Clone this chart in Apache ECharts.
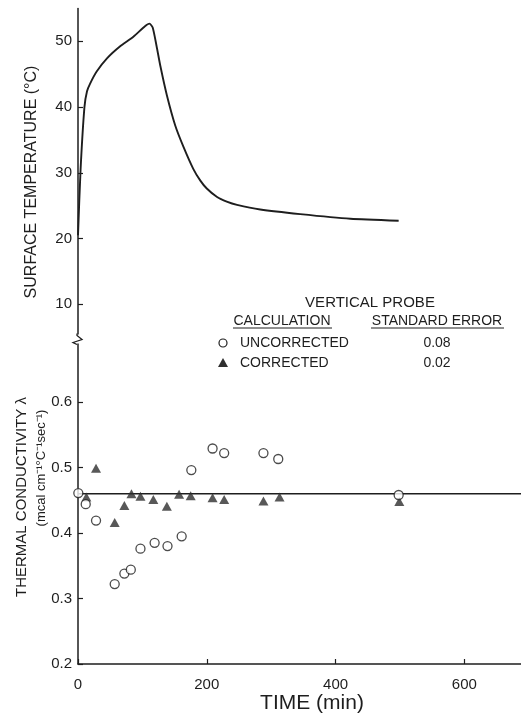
<!DOCTYPE html>
<html>
<head>
<meta charset="utf-8">
<script src="https://cdn.jsdelivr.net/npm/echarts@6/dist/echarts.min.js"></script>
<style>
html,body{margin:0;padding:0;background:#fff;}
#chart{width:521px;height:717px;}
</style>
</head>
<body>
<div id="chart"></div>
<script>
// ---- data ----
var tempTime  = [0, 4, 10, 14, 19, 29, 45, 65, 86, 104, 111, 116, 122, 128, 138, 151, 164, 179, 190, 200, 216, 231, 247, 283, 345, 423, 498];
var tempValue = [20.5, 30.5, 40.0, 42.4, 43.6, 45.4, 47.4, 49.2, 50.7, 52.3, 52.7, 52.1, 49.3, 46.2, 41.8, 37.2, 33.9, 30.6, 28.8, 27.6, 26.3, 25.6, 25.1, 24.4, 23.7, 23.0, 22.7];

var uncorrTime  = [0.5, 12, 28, 57, 72, 82, 97, 119, 139, 161, 176, 209, 227, 288, 311, 498];
var uncorrValue = [0.461, 0.444, 0.419, 0.322, 0.338, 0.344, 0.376, 0.385, 0.380, 0.395, 0.496, 0.529, 0.522, 0.522, 0.513, 0.458];

var corrTime  = [13, 28, 57, 72, 83, 97, 117, 138, 157, 175, 209, 227, 288, 313, 499];
var corrValue = [0.455, 0.499, 0.416, 0.442, 0.460, 0.456, 0.451, 0.441, 0.459, 0.457, 0.454, 0.451, 0.449, 0.455, 0.448];

var fitTime  = [0, 688];
var fitValue = [0.46, 0.46];

var xTicks = [0, 200, 400, 600];
var tempTicks = [10, 20, 30, 40, 50];
var condTicks = [0.2, 0.3, 0.4, 0.5, 0.6];

function zip(a, b) { return a.map(function (v, i) { return [v, b[i]]; }); }

var FONT = '"Liberation Sans", Arial, sans-serif';
var INK = '#1e1e1e';

var chart = echarts.init(document.getElementById('chart'), null, {renderer: 'canvas'});

var axisCommon = {
  axisLine: {show: true, lineStyle: {color: INK, width: 1.5}},
  axisTick: {show: true, inside: true, length: 5, lineStyle: {color: INK, width: 1.2}},
  splitLine: {show: false}
};

var option = {
  animation: false,
  backgroundColor: '#fff',
  grid: [
    {left: 78, right: 0, top: 8.5, height: 328.5},
    {left: 78, right: 0, top: 336.5, bottom: 53}
  ],
  xAxis: [
    {gridIndex: 0, type: 'value', min: 0, max: 688, show: false},
    Object.assign({}, axisCommon, {
      gridIndex: 1, type: 'value', min: 0, max: 688,
      axisTick: Object.assign({}, axisCommon.axisTick, {customValues: xTicks}),
      axisLabel: {customValues: xTicks, margin: 13, color: INK, fontSize: 15, fontFamily: FONT},
      name: 'TIME (min)', nameLocation: 'middle', nameGap: 28,
      nameTextStyle: {color: INK, fontSize: 21, fontFamily: FONT, padding: [0, 0, 0, 25]}
    })
  ],
  yAxis: [
    Object.assign({}, axisCommon, {
      gridIndex: 0, type: 'value', min: 5, max: 55,
      axisTick: Object.assign({}, axisCommon.axisTick, {customValues: tempTicks}),
      axisLabel: {customValues: tempTicks, margin: 6, color: INK, fontSize: 15, fontFamily: FONT}
    }),
    Object.assign({}, axisCommon, {
      gridIndex: 1, type: 'value', min: 0.2, max: 0.7,
      axisTick: Object.assign({}, axisCommon.axisTick, {customValues: condTicks}),
      axisLabel: {customValues: condTicks, margin: 6, color: INK, fontSize: 15, fontFamily: FONT,
        formatter: function (v) { return v.toFixed(1); }}
    })
  ],
  series: [
    {
      name: 'Surface temperature', type: 'line', xAxisIndex: 0, yAxisIndex: 0,
      data: zip(tempTime, tempValue), symbol: 'none', smooth: 0.2,
      lineStyle: {color: INK, width: 1.9}
    },
    {
      name: 'Mean', type: 'line', xAxisIndex: 1, yAxisIndex: 1,
      data: zip(fitTime, fitValue), symbol: 'none',
      lineStyle: {color: INK, width: 1.6}, z: 2
    },
    {
      name: 'CORRECTED', type: 'scatter', xAxisIndex: 1, yAxisIndex: 1,
      data: zip(corrTime, corrValue), symbol: 'triangle', symbolSize: [10, 9],
      itemStyle: {color: '#2e2e2e'}, z: 3
    },
    {
      name: 'UNCORRECTED', type: 'scatter', xAxisIndex: 1, yAxisIndex: 1,
      data: zip(uncorrTime, uncorrValue), symbol: 'circle', symbolSize: 9,
      itemStyle: {color: '#fff', borderColor: INK, borderWidth: 1.3}, z: 4
    }
  ]
};
chart.setOption(option);

// decorations: axis titles, legend table, axis break
var brk = chart.convertToPixel({gridIndex: 1}, [0, 0.7]);
var bx = brk[0] - 1, by = brk[1] + 2;
var txt = function (t, x, y, size, align, extra) {
  return Object.assign({type: 'text', x: x, y: y, style: {text: t, fill: INK, font: size + 'px ' + FONT,
    align: align || 'left', verticalAlign: 'middle'}}, extra || {});
};
chart.setOption({
  graphic: [
    txt('SURFACE TEMPERATURE (°C)', 32, 182, 16, 'center', {rotation: Math.PI / 2}),
    txt('THERMAL CONDUCTIVITY λ', 22, 497, 15, 'center', {rotation: Math.PI / 2}),
    txt('(mcal cm⁻¹°C⁻¹sec⁻¹)', 41, 468, 13, 'center', {rotation: Math.PI / 2}),
    txt('VERTICAL PROBE', 370, 303, 15, 'center'),
    txt('CALCULATION', 282, 321, 14, 'center'),
    txt('STANDARD ERROR', 437, 321, 14, 'center'),
    {type: 'line', shape: {x1: 233, y1: 328, x2: 332, y2: 328}, style: {stroke: INK, lineWidth: 1}},
    {type: 'line', shape: {x1: 371, y1: 328, x2: 504, y2: 328}, style: {stroke: INK, lineWidth: 1}},
    {type: 'circle', shape: {cx: 223, cy: 343, r: 4}, style: {fill: '#fff', stroke: INK, lineWidth: 1.2}},
    txt('UNCORRECTED', 240, 343, 14, 'left'),
    txt('0.08', 437, 343, 14, 'center'),
    {type: 'polygon', shape: {points: [[223, 358], [228, 367], [218, 367]]}, style: {fill: '#2e2e2e'}},
    txt('CORRECTED', 240, 363, 14, 'left'),
    txt('0.02', 437, 363, 14, 'center'),
    {type: 'rect', shape: {x: bx - 2, y: by - 4, width: 4, height: 9}, style: {fill: '#fff'}, z: 100},
    {type: 'polyline', shape: {points: [[bx, by - 5], [bx, by - 3], [bx + 5, by + 1], [bx - 4, by + 4], [bx, by + 6]]},
      style: {stroke: INK, lineWidth: 1.3, fill: null}, z: 101}
  ]
});
</script>
</body>
</html>
